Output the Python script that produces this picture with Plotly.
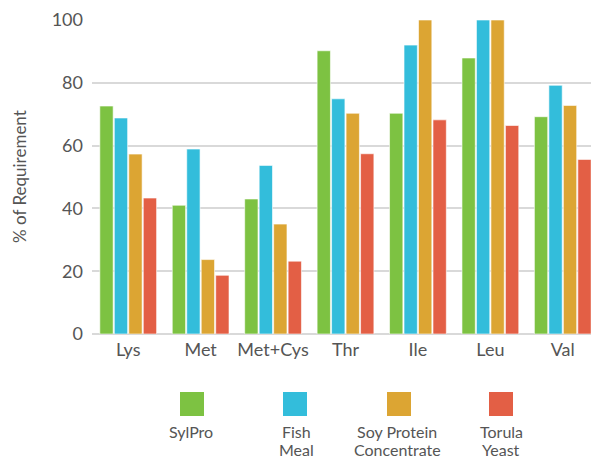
import plotly.graph_objects as go

categories = ["Lys", "Met", "Met+Cys", "Thr", "Ile", "Leu", "Val"]
series_names = ["SylPro", "Fish Meal", "Soy Protein Concentrate", "Torula Yeast"]
legend_lines = [["SylPro"], ["Fish", "Meal"], ["Soy Protein", "Concentrate"], ["Torula", "Yeast"]]
sylpro = [72.6, 41.0, 43.0, 90.2, 70.3, 87.9, 69.2]
fish_meal = [68.8, 58.9, 53.7, 74.9, 92.0, 100.0, 79.2]
soy_protein = [57.3, 23.7, 35.0, 70.3, 100.0, 100.0, 72.8]
torula_yeast = [43.3, 18.7, 23.2, 57.4, 68.2, 66.4, 55.6]
y_ticks = [0, 20, 40, 60, 80, 100]

colors = ["#7dc242", "#33bddb", "#dca533", "#e35f45"]
values = [sylpro, fish_meal, soy_protein, torula_yeast]

font_family = "Lato, 'Open Sans', sans-serif"
text_color = "#555555"

fig = go.Figure()
for name, vals, col in zip(series_names, values, colors):
    fig.add_trace(go.Bar(
        x=categories, y=vals, name=name,
        marker=dict(color=col, line=dict(color="rgba(255,255,255,0.6)", width=1)),
        showlegend=False,
    ))

# page body has an 8px margin; size the figure so it lands like the reference
OFF = 8
W, H = 599 - OFF, 460 - OFF
ml, mr, mt, mb = 92 - OFF, 0, 20 - OFF, 460 - 334
pw = W - ml - mr
ph = H - mt - mb

def px_to_paper_x(px):
    return (px - OFF - ml) / pw

def px_to_paper_y(py):
    return (mt + ph - (py - OFF)) / ph

shapes = []
annotations = []
sq_left = [180, 283, 387, 489]
label_centers = [191, 296, 397, 501]
line_centers = [431, 449]
for i, col in enumerate(colors):
    shapes.append(dict(
        type="rect", xref="paper", yref="paper",
        x0=px_to_paper_x(sq_left[i]), x1=px_to_paper_x(sq_left[i] + 24),
        y0=px_to_paper_y(416), y1=px_to_paper_y(392),
        fillcolor=col, line=dict(width=0), layer="above",
    ))
    for j, line in enumerate(legend_lines[i]):
        annotations.append(dict(
            text=line, xref="paper", yref="paper",
            x=px_to_paper_x(label_centers[i]), y=px_to_paper_y(line_centers[j]),
            xanchor="center", yanchor="middle", showarrow=False, borderpad=0,
            font=dict(size=16, color=text_color, family=font_family),
        ))

annotations.append(dict(
    text="% of Requirement", xref="paper", yref="paper",
    x=px_to_paper_x(19), y=px_to_paper_y(177),
    xanchor="center", yanchor="middle", textangle=-90, showarrow=False,
    borderpad=0,
    font=dict(size=17, color=text_color, family=font_family),
))

fig.update_layout(
    width=W, height=H,
    margin=dict(l=ml, r=mr, t=mt, b=mb),
    paper_bgcolor="white", plot_bgcolor="white",
    barmode="group", bargap=0.2, bargroupgap=0.08,
    font=dict(family=font_family, color=text_color),
    xaxis=dict(
        showgrid=False, showline=False, zeroline=False,
        tickfont=dict(size=18, color=text_color), ticks="",
        ticklabelstandoff=3,
    ),
    yaxis=dict(
        range=[0, 100], tickvals=y_ticks,
        showgrid=True, gridcolor="#d9d9d9", gridwidth=2,
        zeroline=True, zerolinecolor="#d9d9d9", zerolinewidth=2,
        showline=False, ticks="", ticklabelstandoff=8,
        tickfont=dict(size=18, color=text_color),
    ),
    shapes=shapes,
    annotations=annotations,
)

fig.write_html("out.html")
